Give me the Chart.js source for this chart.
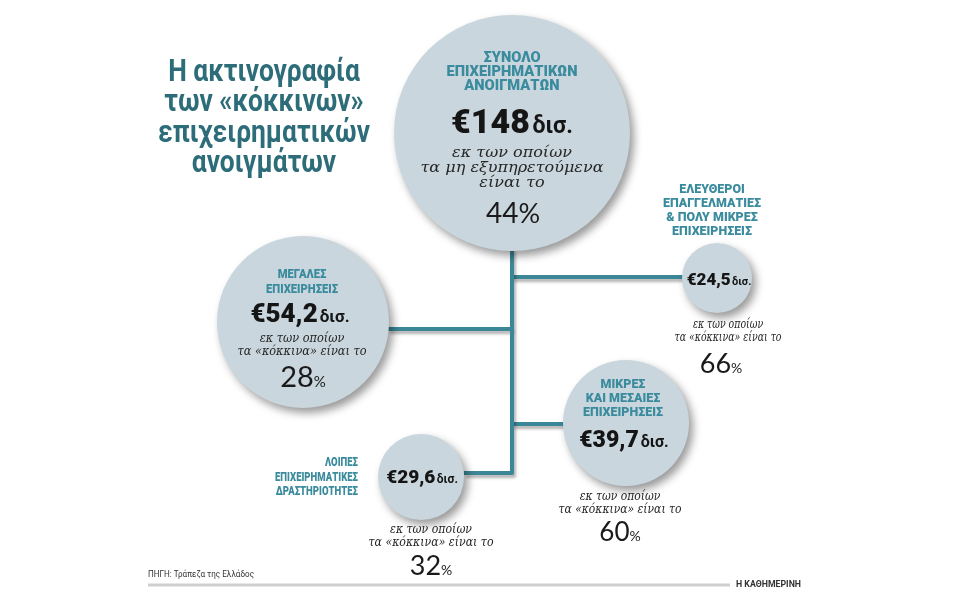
<!DOCTYPE html>
<html><head><meta charset="utf-8">
<script src="https://cdn.jsdelivr.net/npm/chart.js@4.4.1/dist/chart.umd.min.js"></script>
<style>html,body{margin:0;padding:0;background:#fff;}#wrap{width:960px;height:600px;}</style>
</head><body><div id="wrap"><canvas id="c" width="960" height="600"></canvas></div>
<script>
// ---------- DATA ----------
const categories = [
  "ΣΥΝΟΛΟ\nΕΠΙΧΕΙΡΗΜΑΤΙΚΩΝ\nΑΝΟΙΓΜΑΤΩΝ",
  "ΜΕΓΑΛΕΣ\nΕΠΙΧΕΙΡΗΣΕΙΣ",
  "ΕΛΕΥΘΕΡΟΙ\nΕΠΑΓΓΕΛΜΑΤΙΕΣ\n& ΠΟΛΥ ΜΙΚΡΕΣ\nΕΠΙΧΕΙΡΗΣΕΙΣ",
  "ΜΙΚΡΕΣ\nΚΑΙ ΜΕΣΑΙΕΣ\nΕΠΙΧΕΙΡΗΣΕΙΣ",
  "ΛΟΙΠΕΣ\nΕΠΙΧΕΙΡΗΜΑΤΙΚΕΣ\nΔΡΑΣΤΗΡΙΟΤΗΤΕΣ"
];
const exposuresBn = [148, 54.2, 24.5, 39.7, 29.6];
const problemSharePct = [44, 28, 66, 60, 32];
const shareNotes = [
  "εκ των οποίων\nτα μη εξυπηρετούμενα\nείναι το",
  "εκ των οποίων\nτα «κόκκινα» είναι το",
  "εκ των οποίων\nτα «κόκκινα» είναι το",
  "εκ των οποίων\nτα «κόκκινα» είναι το",
  "εκ των οποίων\nτα «κόκκινα» είναι το"
];
const titleLines = ["Η ακτινογραφία", "των «κόκκινων»", "επιχειρηματικών", "ανοιγμάτων"];
const sourceText = "ΠΗΓΗ: Τράπεζα της Ελλάδος";
const brandText = "Η ΚΑΘΗΜΕΡΙΝΗ";
const currencyUnit = "δισ.";

// ---------- LAYOUT (positions / sizes / styles) ----------
const nodeLayout = [
  {x:512, y:133, r:118,
   label:{x:512, y:58, lh:14, size:14, w:131, align:'center'},
   value:{x:512, y:121, size:34, suf:23},
   note:{x:512, y:153, lh:15, size:15, w:183},
   pct:{x:513, y:213, size:28, pctSize:27}},
  {x:303, y:322, r:86,
   label:{x:302, y:275, lh:15, size:12.5, w:72, align:'center'},
   value:{x:300, y:313, size:26, suf:17},
   note:{x:302, y:339, lh:12.5, size:12, w:129},
   pct:{x:303, y:377, size:29, pctSize:15}},
  {x:717, y:278, r:35,
   label:{x:712, y:190, lh:14, size:12, w:98, align:'center'},
   value:{x:719, y:279, size:17, suf:11},
   note:{x:728, y:325, lh:13, size:12, w:107},
   pct:{x:721, y:363, size:27, pctSize:14}},
  {x:626, y:423, r:63,
   label:{x:623, y:385, lh:14, size:12.5, w:80, align:'center'},
   value:{x:624, y:439, size:23, suf:16},
   note:{x:620, y:497, lh:12.5, size:12, w:123},
   pct:{x:620, y:532, size:26, pctSize:14}},
  {x:421, y:477, r:43,
   label:{x:358, y:463, lh:14.5, size:12, w:83, align:'right'},
   value:{x:422, y:476, size:19, suf:12},
   note:{x:431, y:530, lh:13, size:12, w:125},
   pct:{x:431, y:565, size:27, pctSize:14}}
];
const connectorPaths = [
  [{x:512,y:250},{x:512,y:473},{x:464,y:473}],
  [{x:512,y:277},{x:684,y:277}],
  [{x:512,y:329},{x:388,y:329}],
  [{x:512,y:424},{x:564,y:424}]
];
const COL = {bubble:'#c9d6dd', line:'#3b8798', label:'#3a8b9d', title:'#2d6c79', text:'#262626'};

// ---------- helpers ----------
function drawFitLines(ctx, lines, x, y, lh, font, color, align, targetW){
  ctx.save();
  ctx.font = font;
  let maxW = 0;
  lines.forEach(l => { maxW = Math.max(maxW, ctx.measureText(l).width); });
  const sx = targetW ? targetW / maxW : 1;
  ctx.fillStyle = color;
  ctx.textBaseline = 'middle';
  ctx.textAlign = align || 'center';
  lines.forEach((l, i) => {
    ctx.save();
    ctx.translate(x, y + i * lh);
    ctx.scale(sx, 1);
    ctx.fillText(l, 0, 0);
    ctx.restore();
  });
  ctx.restore();
}
function drawPair(ctx, main, suffix, cx, cy, mainFont, sufFont, mainSize, gap, color){
  ctx.save();
  ctx.fillStyle = color;
  ctx.textBaseline = 'alphabetic';
  ctx.textAlign = 'left';
  ctx.font = mainFont; const mw = ctx.measureText(main).width;
  ctx.font = sufFont; const sw = ctx.measureText(suffix).width;
  const total = mw + gap + sw;
  const x0 = cx - total / 2;
  const base = cy + mainSize * 0.36;
  ctx.font = mainFont; ctx.fillText(main, x0, base);
  ctx.font = sufFont; ctx.fillText(suffix, x0 + mw + gap, base);
  ctx.restore();
}
function fmt(v){ return String(v).replace('.', ','); }

const shadowPlugin = {
  id:'shadows',
  beforeDatasetDraw(chart, args){
    const c = chart.ctx; c.save();
    const ds = chart.data.datasets[args.index];
    if (ds.type === 'bubble'){
      c.shadowColor = 'rgba(0,0,0,0.40)'; c.shadowBlur = 9; c.shadowOffsetX = 4; c.shadowOffsetY = 5;
    } else {
      c.shadowColor = 'rgba(0,0,0,0.30)'; c.shadowBlur = 3; c.shadowOffsetX = 2; c.shadowOffsetY = 3;
    }
  },
  afterDatasetDraw(chart){ chart.ctx.restore(); }
};

const textPlugin = {
  id:'texts',
  afterDraw(chart){
    const ctx = chart.ctx;
    const xs = chart.scales.x, ys = chart.scales.y;
    const px = v => xs.getPixelForValue(v), py = v => ys.getPixelForValue(v);

    // title
    ctx.save();
    ctx.font = '700 31px Roboto, "Open Sans", sans-serif';
    const refW = ctx.measureText(titleLines[2]).width;
    ctx.restore();
    const tsx = 212 / refW;
    titleLines.forEach((t, i) => {
      ctx.save();
      ctx.font = '700 31px Roboto, "Open Sans", sans-serif';
      ctx.fillStyle = COL.title; ctx.textAlign = 'center'; ctx.textBaseline = 'middle';
      ctx.translate(264, 73 + i * 30.5); ctx.scale(tsx, 1);
      ctx.fillText(t, 0, 0);
      ctx.restore();
    });

    nodeLayout.forEach((n, i) => {
      const L = n.label;
      drawFitLines(ctx, categories[i].split('\n'), px(L.x), py(L.y), L.lh,
        `900 ${L.size}px Roboto, sans-serif`, COL.label, L.align, L.w);
      const V = n.value;
      drawPair(ctx, '€' + fmt(exposuresBn[i]), currencyUnit, px(V.x), py(V.y),
        `900 ${V.size}px Roboto, sans-serif`, `700 ${V.suf}px Roboto, sans-serif`, V.size, V.size * 0.08, '#151515');
      const N = n.note;
      drawFitLines(ctx, shareNotes[i].split('\n'), px(N.x), py(N.y), N.lh,
        `italic ${N.size}px "DejaVu Serif", serif`, COL.text, 'center', N.w);
      const P = n.pct;
      drawPair(ctx, String(problemSharePct[i]), '%', px(P.x), py(P.y),
        `400 ${P.size}px Lato, "Open Sans", sans-serif`, `400 ${P.pctSize}px Lato, "Open Sans", sans-serif`, P.size, 0, '#1a1a1a');
    });

    // footer
    ctx.save();
    ctx.strokeStyle = '#cfcfcf'; ctx.lineWidth = 3;
    ctx.beginPath(); ctx.moveTo(148, 585); ctx.lineTo(730, 585); ctx.stroke();
    ctx.fillStyle = '#333'; ctx.textBaseline = 'middle'; ctx.textAlign = 'left';
    ctx.font = '9px Roboto, sans-serif';
    ctx.save(); ctx.translate(148, 575); ctx.scale(0.9, 1); ctx.fillText(sourceText, 0, 0); ctx.restore();
    ctx.font = '700 9.5px Roboto, sans-serif';
    ctx.save(); ctx.translate(736, 585); ctx.scale(0.92, 1); ctx.fillText(brandText, 0, 0); ctx.restore();
    ctx.restore();
  }
};

const datasets = [
  {type:'bubble', label:'exposures', order:1,
   data: nodeLayout.map((n, i) => ({x:n.x, y:n.y, r:n.r, v:exposuresBn[i]})),
   backgroundColor: COL.bubble, borderWidth:0, hoverRadius:0, clip:false}
].concat(connectorPaths.map((p, k) => ({
   type:'line', label:'link'+k, order:2, data:p, clip:false,
   borderColor: COL.line, borderWidth:4, pointRadius:0, fill:false, tension:0,
   borderJoinStyle:'round', borderCapStyle:'butt'
})));

new Chart(document.getElementById('c'), {
  type:'bubble',
  data:{datasets},
  options:{
    responsive:false, animation:false, events:[],
    layout:{padding:0, autoPadding:false},
    plugins:{legend:{display:false}, tooltip:{enabled:false}},
    scales:{
      x:{type:'linear', min:0, max:960, display:false},
      y:{type:'linear', min:0, max:600, reverse:true, display:false}
    }
  },
  plugins:[shadowPlugin, textPlugin]
});
</script>
</body></html>
